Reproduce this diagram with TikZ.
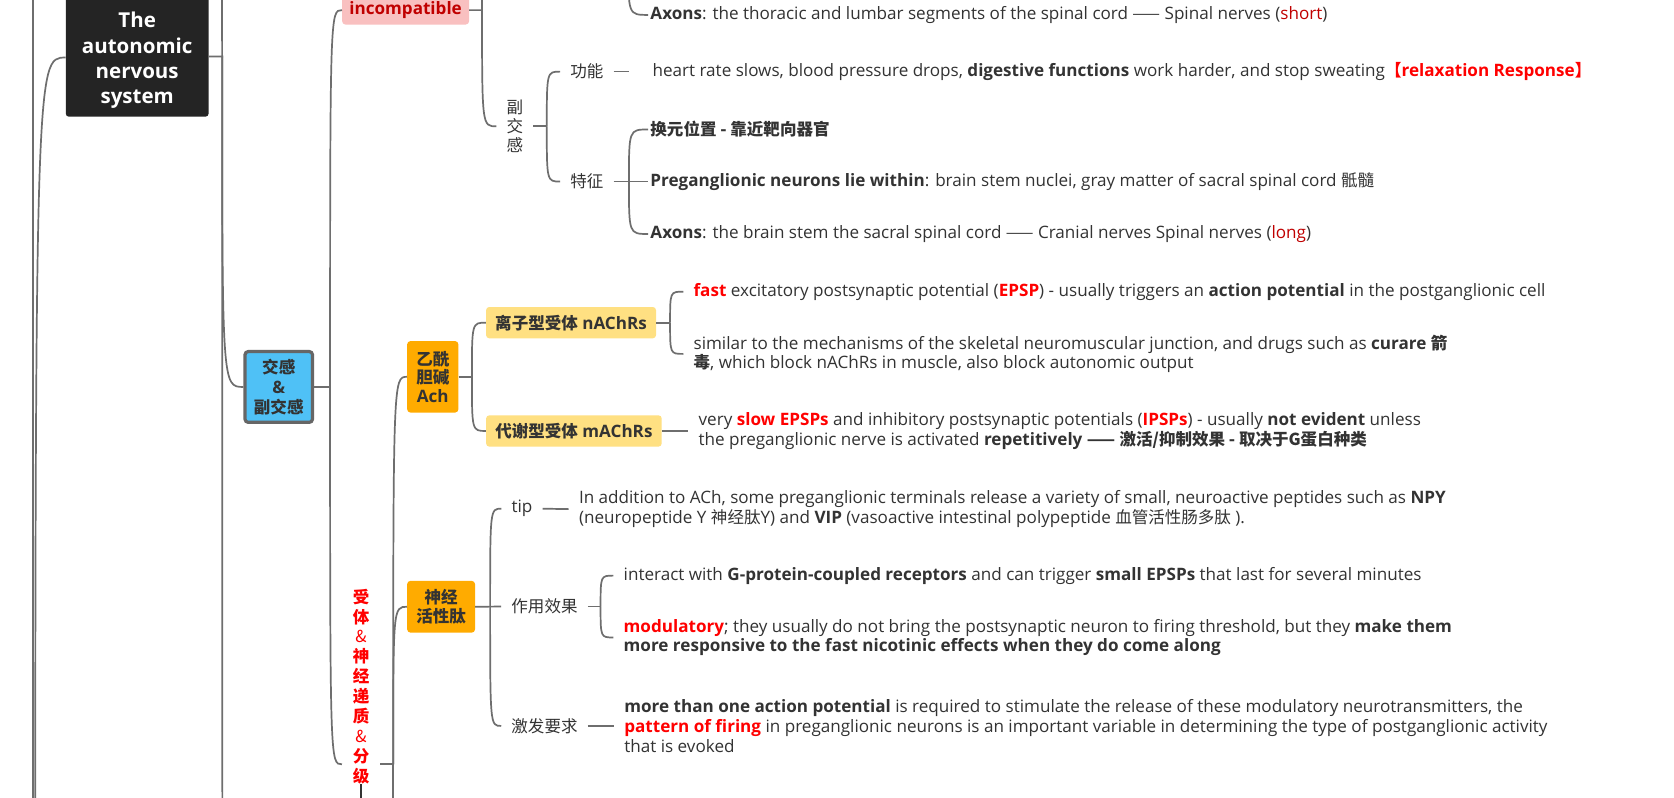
\documentclass[tikz,border=0pt]{standalone}
\usepackage{fontspec}
\setmainfont{Open Sans}[Scale=1.034]
\newfontfamily\cjk{Noto Sans CJK SC}
\usetikzlibrary{positioning,calc}
\pgfdeclarelayer{background}
\pgfsetlayers{background,main}
\definecolor{linkgray}{HTML}{6E6E6E}
\definecolor{txt}{HTML}{333333}
\definecolor{hlred}{HTML}{FF0000}
\definecolor{darkred}{HTML}{C00000}
\definecolor{titleblack}{HTML}{242424}
\definecolor{skyblue}{HTML}{4FC1F6}
\definecolor{boxgray}{HTML}{666666}
\definecolor{amber}{HTML}{FFAB00}
\definecolor{lightamber}{HTML}{FFE082}
\definecolor{pinkbg}{HTML}{F9C0C0}
\newcommand{\zh}[1]{{\cjk #1}}
\newcommand{\hl}[1]{\textcolor{hlred}{\textbf{#1}}}
\newcommand{\dr}[1]{\textcolor{darkred}{#1}}
\newcommand{\body}{\fontsize{15.5}{18.4}\selectfont}
\tikzset{
  link/.style={draw=linkgray, line width=1.6pt},
  note/.style={anchor=west, text=txt, align=left, inner xsep=9.5pt, inner ysep=1pt, font=\body},
  leaf/.style={note, inner xsep=2pt},
  tag/.style={text=txt, inner xsep=9.4pt, inner ysep=1pt, font=\body},
  topic/.style={rounded corners=3pt, align=center, text=txt, inner sep=0pt, font=\body\bfseries},
}
\begin{document}
\begin{tikzpicture}[x=1pt,y=-1pt]
\useasboundingbox (0,0) rectangle (1570.4,748.6);
\clip (0,0) rectangle (1570.4,748.6);

% root branch and title
\node[topic, text=white, minimum width=134pt, font=\fontsize{18.6}{23.5}\selectfont\bfseries]
  (ans) at (128.7,56.5) {The\\autonomic\\nervous\\system};
\coordinate (ansTL) at (61.7,-10);
\coordinate (ansBR) at (195.7,109.5);
\coordinate (la1) at (31,-10);
\coordinate (la2) at (31,760);
\coordinate (low1) at (33,1080);
\coordinate (anx) at ($(ans.east)+(12.5,-3.5)$);
\coordinate (ansIn) at ($(ans.west)+(0,-2.5)$);
\coordinate (ansTop) at (208.2,-10);
\coordinate (ansLow) at (228,1400);
\draw[link] (la1) -- (la2);
\draw[link] (ans.east |- anx) -- (anx) -- (ansTop);

% sympathetic / parasympathetic
\node[topic, fill=skyblue, draw=boxgray, line width=3pt, minimum width=63.3pt, minimum height=66.4pt,
  font=\fontsize{15.5}{18.5}\selectfont\bfseries] (jg) at (261.5,363) {\zh{交感}\\\&\\\zh{副交感}};
\coordinate (jgx) at ($(jg.east)+(15,0)$);
\draw[link] (jg.east) -- (jgx);
\node[topic, fill=pinkbg, text=darkred, minimum width=119pt, minimum height=27pt] (inc) at (380.5,9.5) {incompatible};
\coordinate (incx) at ($(inc.east)+(12,0)$);
\coordinate (incTop) at (452,-10);
\draw[link] (inc.east) -- (incx) -- (incTop);
\node[tag, align=center, font=\fontsize{15.5}{17.5}\selectfont\cjk] (fjg) at (483,118.5) {副\\交\\感};
\coordinate (fjgx) at ($(fjg.east)+(12.6,0)$);
\draw[link] (fjg.east) -- (fjgx);
\node[tag] (gn) at (550.5,67.2) {\zh{功能}};
\node[tag] (tz) at (550.5,170.3) {\zh{特征}};
\coordinate (tzx) at ($(tz.east)+(14.4,0)$);
\coordinate (sgx) at (589.4,-36);
\node[note] (gnT) at (590.5,67.2) {\hspace*{12pt}heart rate slows, blood pressure drops, \textbf{digestive functions} work harder, and stop sweating\hl{\zh{【}relaxation Response\zh{】}}};
\node[leaf] (ax1) at (608,14) {\textbf{Axons}: the thoracic and lumbar segments of the spinal cord \zh{——} Spinal nerves (\dr{short})};
\node[leaf] (hy) at (608,121.5) {\zh{\bfseries 换元位置 - 靠近靶向器官}};
\node[leaf] (pg) at (608,170.3) {\textbf{Preganglionic neurons lie within}: brain stem nuclei, gray matter of sacral spinal cord \zh{骶髓}};
\node[leaf] (ax2) at (608,219.5) {\textbf{Axons}: the brain stem the sacral spinal cord \zh{——} Cranial nerves Spinal nerves (\dr{long})};
\draw[link] (gn.east) -- (gnT.west);
\draw[link] (tz.east) -- (pg.west);

% receptors and transmitters
\node[tag, align=center, text=hlred, inner xsep=10pt, inner ysep=0pt,
  font=\fontsize{15.5}{18.7}\selectfont\cjk\bfseries] (sti) at (338.7,644) {受\\体\\{\mdseries\&}\\神\\经\\递\\质\\{\mdseries\&}\\分\\级};
\coordinate (stiY) at (0,717);
\coordinate (stiIn) at (sti.west |- stiY);
\coordinate (stiOut) at (sti.east |- stiY);
\coordinate (stix) at ($(stiOut)+(12.2,0)$);
\coordinate (stiBot) at (sti.south |- la2);
\coordinate (stiDown) at (stix |- la2);
\draw[link] (stiOut) -- (stix) -- (stiDown);
\draw[draw=txt, line width=1.3pt] (sti.south) -- (stiBot);

\node[topic, fill=amber, minimum width=48pt, minimum height=67pt,
  font=\fontsize{15.5}{17.5}\selectfont\bfseries] (ach) at (406,353.5) {\zh{乙酰}\\\zh{胆碱}\\Ach};
\coordinate (achx) at ($(ach.east)+(12.5,0)$);
\draw[link] (ach.east) -- (achx);
\node[topic, fill=lightamber, minimum width=159.4pt, minimum height=29.4pt] (nach) at (535.7,302.7) {\zh{离子型受体} nAChRs};
\node[topic, fill=lightamber, minimum width=164.7pt, minimum height=29.4pt] (mach) at (538.4,404.3) {\zh{代谢型受体} mAChRs};
\coordinate (nachx) at ($(nach.east)+(13,0)$);
\draw[link] (nach.east) -- (nachx);
\node[note] (fast) at (641,273.6) {\hl{fast} excitatory postsynaptic potential (\hl{EPSP}) - usually triggers an \textbf{action potential} in the postganglionic cell};
\node[note] (simi) at (641,332) {similar to the mechanisms of the skeletal neuromuscular junction, and drugs such as \textbf{curare \zh{箭}}\\\textbf{\zh{毒}}, which block nAChRs in muscle, also block autonomic output};
\node[note] (slow) at (645.7,404.3) {very \hl{slow EPSPs} and inhibitory postsynaptic potentials (\hl{IPSPs}) - usually \textbf{not evident} unless\\the preganglionic nerve is activated \textbf{repetitively \zh{——} \zh{激活/抑制效果 - 取决于G蛋白种类}}};
\draw[link] (mach.east) -- (slow.west);

% neuroactive peptides
\node[topic, fill=amber, minimum width=63.6pt, minimum height=48.5pt,
  font=\fontsize{15.5}{18.3}\selectfont\bfseries] (npep) at (413.8,569.2) {\zh{神经}\\\zh{活性肽}};
\coordinate (npepx) at ($(npep.east)+(14,0)$);
\node[tag] (tip) at (489.7,477.2) {tip};
\node[tag] (zy) at (510.8,569) {\zh{作用效果}};
\node[tag] (jf) at (510.8,681) {\zh{激发要求}};
\draw[link] (npep.east) -- (zy.west);
\node[note] (tipT) at (533.5,477.6) {In addition to ACh, some preganglionic terminals release a variety of small, neuroactive peptides such as \textbf{NPY}\\(neuropeptide Y \zh{神经肽}Y) and \textbf{VIP} (vasoactive intestinal polypeptide \zh{血管活性肠多肽} ).};
\draw[link] (tip.east) -- (tipT.west);
\coordinate (zyx) at ($(zy.east)+(12,0)$);
\draw[link] (zy.east) -- (zyx);
\node[note] (ia) at (575.4,540) {interact with \textbf{G-protein-coupled receptors} and can trigger \textbf{small EPSPs} that last for several minutes};
\node[note] (mo) at (575.4,598) {\hl{modulatory}; they usually do not bring the postsynaptic neuron to firing threshold, but they \textbf{make them}\\\textbf{more responsive to the fast nicotinic effects when they do come along}};
\node[note] (jfT) at (576,681) {\textbf{more than one action potential} is required to stimulate the release of these modulatory neurotransmitters, the\\\hl{pattern of firing} in preganglionic neurons is an important variable in determining the type of postganglionic activity\\that is evoked};
\draw[link] (jf.east) -- (jfT.west);

% curved branches
\foreach \a/\b in {low1/ansIn, anx/jg.west, anx/ansLow, jgx/inc.west, jgx/stiIn,
  incx/fjg.west, fjgx/gn.west, fjgx/tz.west, tzx/hy.west, tzx/ax2.west, sgx/ax1.west,
  stix/ach.west, stix/npep.west, achx/nach.west, achx/mach.west, nachx/fast.west,
  nachx/simi.west, npepx/tip.west, npepx/jf.west, zyx/ia.west, zyx/mo.west}
{
\draw[link] (\a) .. controls (\a |- \b) .. (\b);
}

  \begin{pgfonlayer}{background}
    \fill[white] (0,0) rectangle (1570.4,748.6);
    \fill[titleblack, rounded corners=3pt] (ansTL) rectangle (ansBR);
  \end{pgfonlayer}
\end{tikzpicture}
\end{document}
